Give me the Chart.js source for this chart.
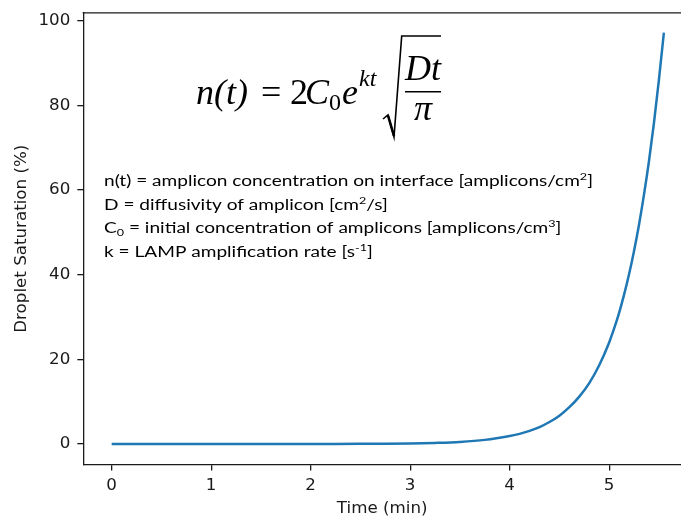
<!DOCTYPE html>
<html><head><meta charset="utf-8">
<script src="https://cdn.jsdelivr.net/npm/chart.js@4"></script>
<style>html,body{margin:0;padding:0;background:#fff;overflow:hidden}canvas{display:block}</style>
</head><body>
<canvas id="c" width="681" height="516"></canvas>
<script>
// ---- data ----
const timeMin = [0, 0.25, 0.5, 0.75, 1, 1.25, 1.5, 1.75, 2, 2.25, 2.5, 2.75, 3, 3.25, 3.5, 3.75, 4, 4.1, 4.2, 4.3, 4.4, 4.5, 4.6, 4.7, 4.8, 4.9, 5, 5.05, 5.1, 5.15, 5.2, 5.25, 5.3, 5.35, 5.4, 5.45, 5.5, 5.55];
const saturation = [0, 0, 0, 0, 0, 0, 0, 0, 0.01, 0.02, 0.04, 0.07, 0.14, 0.27, 0.5, 0.98, 1.9, 2.4, 3.1, 4.0, 5.2, 6.7, 8.7, 11.2, 14.4, 18.6, 24.0, 27.3, 31.0, 35.3, 40.1, 45.6, 51.8, 58.9, 66.8, 75.8, 86.0, 97.2];
const xTicks = [0, 1, 2, 3, 4, 5];
const yTicks = [0, 20, 40, 60, 80, 100];
const xLabel = 'Time (min)';
const yLabel = 'Droplet Saturation (%)';
const noteLines = [
  [{t:'n(t) = amplicon concentration on interface [amplicons/cm'}, {t:'2', sup:true}, {t:']'}],
  [{t:'D = diffusivity of amplicon [cm'}, {t:'2', sup:true}, {t:'/s]'}],
  [{t:'C'}, {t:'0', sub:true}, {t:' = initial concentration of amplicons [amplicons/cm'}, {t:'3', sup:true}, {t:']'}],
  [{t:'k = LAMP amplification rate [s'}, {t:'-1', sup:true}, {t:']'}]
];

const INK = '#1a1a1a';
const AXF = 'DejaVu Sans';
const FS = 16.7;

function drawRich(ctx, segs, x, y, size, family, doDraw){
  for (const s of segs){
    const sz = (s.sup || s.sub) ? size * 0.66 : size;
    ctx.font = sz + 'px ' + family;
    const dy = s.sup ? -size * 0.36 : (s.sub ? size * 0.22 : 0);
    if (doDraw) ctx.fillText(s.t, x, y + dy);
    x += ctx.measureText(s.t).width;
  }
  return x;
}

function drawFormula(ctx){
  ctx.fillStyle = '#000';
  ctx.textBaseline = 'alphabetic';
  ctx.textAlign = 'left';
  const F = '"Liberation Serif", "DejaVu Serif", serif';
  const big = 36, small = 24;
  const base = 104;
  function put(text, italic, size, x, dy){
    ctx.font = (italic ? 'italic ' : '') + size + 'px ' + F;
    ctx.fillText(text, x, base + dy);
  }
  put('n(t)', true, big, 196, 0);
  put('=', false, big, 261, 0);
  put('2', false, big, 290, 0);
  put('C', true, big, 305, 0);
  put('0', false, small, 329, 6);
  put('e', true, big, 342, 0);
  put('kt', true, small, 359, -18);
  // radical
  ctx.strokeStyle = '#000';
  ctx.lineJoin = 'miter';
  ctx.lineWidth = 1.6;
  ctx.beginPath();
  ctx.moveTo(383, 119); ctx.lineTo(388, 115); ctx.lineTo(394, 137); ctx.lineTo(401.7, 36); ctx.lineTo(441, 36);
  ctx.stroke();
  ctx.lineWidth = 2.6;
  ctx.beginPath(); ctx.moveTo(388, 115.5); ctx.lineTo(394, 136); ctx.stroke();
  // fraction
  ctx.textAlign = 'center';
  ctx.font = 'italic ' + big + 'px ' + F;
  ctx.fillText('Dt', 423, 80);
  ctx.fillText('\u03C0', 423, 120);
  ctx.lineWidth = 1.6;
  ctx.beginPath(); ctx.moveTo(405, 91.7); ctx.lineTo(441, 91.7); ctx.stroke();
  ctx.textAlign = 'left';
}

function drawNotes(ctx){
  const fam = 'Lato, "Open Sans", sans-serif';
  const size = 15.5;
  ctx.fillStyle = '#000';
  ctx.textBaseline = 'alphabetic';
  ctx.textAlign = 'left';
  const w = drawRich(ctx, noteLines[0], 0, 0, size, fam, false);
  const sx = 489 / w;
  const baselines = [186, 209.5, 233, 256.5];
  ctx.save();
  ctx.translate(104, 0);
  ctx.scale(sx, 1);
  noteLines.forEach((ln, i) => drawRich(ctx, ln, 0, baselines[i], size, fam, true));
  ctx.restore();
}

const decor = {
  id: 'decor',
  afterDraw(chart){
    const ctx = chart.ctx, a = chart.chartArea;
    ctx.save();
    ctx.strokeStyle = INK; ctx.lineWidth = 1.3;
    ctx.beginPath(); ctx.moveTo(a.left - 0.65, a.top); ctx.lineTo(a.right, a.top); ctx.stroke();
    drawFormula(ctx);
    drawNotes(ctx);
    ctx.restore();
  }
};

new Chart(document.getElementById('c'), {
  type: 'line',
  data: { datasets: [{
    data: timeMin.map((t, i) => ({x: t, y: saturation[i]})),
    borderColor: '#1f77b4', borderWidth: 2.5, pointRadius: 0, fill: false,
    cubicInterpolationMode: 'monotone'
  }]},
  options: {
    responsive: false, animation: false, devicePixelRatio: 1,
    layout: { padding: { top: 12.8, left: 0, right: 0, bottom: 0 } },
    plugins: { legend: { display: false }, tooltip: { enabled: false } },
    scales: {
      x: {
        type: 'linear', min: -0.285, max: 5.722,
        afterBuildTicks(s){ s.ticks = xTicks.map(v => ({value: v})); },
        afterFit(s){ s.height = 51.4; s.paddingLeft = 0; s.paddingRight = 0; },
        grid: { drawOnChartArea: false, drawTicks: true, tickLength: 6, color: INK, lineWidth: 1.3 },
        border: { display: true, color: INK, width: 1.3 },
        ticks: { color: INK, font: { family: AXF, size: FS }, padding: 5, maxRotation: 0, callback: v => String(v) },
        title: { display: true, text: xLabel, color: INK, font: { family: AXF, size: FS, lineHeight: 0.85 }, padding: { top: 0, bottom: 0 } }
      },
      y: {
        type: 'linear', min: -4.86, max: 101.86,
        afterBuildTicks(s){ s.ticks = yTicks.map(v => ({value: v})); },
        afterFit(s){ s.width = 83.3; s.paddingTop = 0; s.paddingBottom = 0; },
        grid: { drawOnChartArea: false, drawTicks: true, tickLength: 6, color: INK, lineWidth: 1.3 },
        border: { display: true, color: INK, width: 1.3 },
        ticks: { color: INK, font: { family: AXF, size: FS }, padding: 7, callback: v => String(v) },
        title: { display: true, text: yLabel, color: INK, font: { family: AXF, size: FS }, padding: { top: 11.5, bottom: 0 } }
      }
    }
  },
  plugins: [decor]
});
</script>
</body></html>
